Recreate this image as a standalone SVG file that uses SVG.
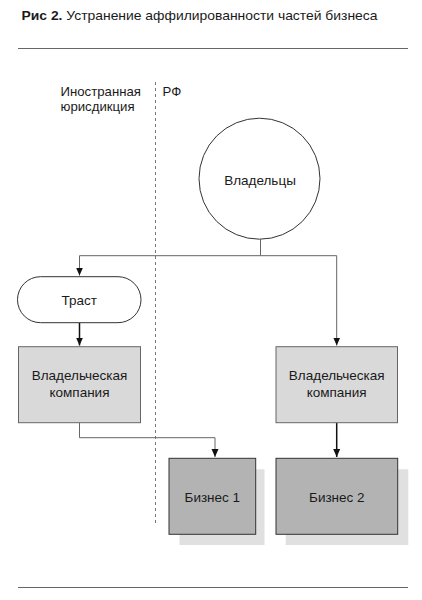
<svg xmlns="http://www.w3.org/2000/svg" width="422" height="600" viewBox="0 0 422 600">
<style>
text{font-family:"Liberation Sans",Arial,sans-serif;fill:#1a1a1a}
.lbl{font-size:13.5px;text-anchor:middle}
.jur{font-size:13.2px}
.thin{fill:none;stroke:#666;stroke-width:1}
.thick{fill:none;stroke:#111;stroke-width:1.5}
.rule{stroke:#666;stroke-width:1.2}
.own{fill:#d9d9d9;stroke:#666;stroke-width:1}
.biz{fill:#b3b3b3;stroke:#333;stroke-width:1}
.shadow{fill:#e0e0e0}
</style>
<defs>
<marker id="ah" viewBox="0 0 8 8" refX="8" refY="4" markerWidth="8" markerHeight="8" markerUnits="userSpaceOnUse" orient="auto">
<path d="M0,0.5 L8,4 L0,7.5 Z" fill="#111"/>
</marker>
</defs>
<rect width="422" height="600" fill="#fff"/>
<text x="21.5" y="19.5" font-size="13" textLength="356" lengthAdjust="spacingAndGlyphs"><tspan font-weight="bold">Рис 2.</tspan> Устранение аффилированности частей бизнеса</text>
<line class="rule" x1="18" y1="48.5" x2="408" y2="48.5"/>
<line class="rule" x1="18" y1="587.5" x2="408" y2="587.5"/>
<g id="jurisdiction">
<line x1="155.5" y1="82" x2="155.5" y2="526" stroke="#777" stroke-width="1" stroke-dasharray="3,3"/>
<text class="jur" x="60.5" y="96">Иностранная</text>
<text class="jur" x="60.5" y="111">юрисдикция</text>
<text class="jur" x="162.5" y="96">РФ</text>
</g>
<g id="connectors">
<path class="thin" d="M260.5,239.5 V255.7"/>
<path class="thin" d="M79.5,255.7 H336.7"/>
<path class="thin" d="M79.5,255.7 V275.5" marker-end="url(#ah)"/>
<path class="thin" d="M336.7,255.7 V345.5" marker-end="url(#ah)"/>
<path class="thick" d="M79.5,322.7 V345.5" marker-end="url(#ah)"/>
<path class="thin" d="M79.5,422.7 V437.7 H215 V457" marker-end="url(#ah)"/>
<path class="thick" d="M336.7,422.7 V457" marker-end="url(#ah)"/>
</g>
<g id="owners">
<circle cx="259.5" cy="178.7" r="60.5" fill="#fff" stroke="#333" stroke-width="1"/>
<text class="lbl" x="260" y="185">Владельцы</text>
</g>
<g id="trust">
<rect x="17.5" y="276.7" width="123.5" height="46" rx="23" ry="23" fill="#fff" stroke="#333" stroke-width="1"/>
<text class="lbl" x="79.3" y="305">Траст</text>
</g>
<g id="holding1">
<rect class="own" x="18.5" y="346.7" width="122" height="76"/>
<text class="lbl" x="79.5" y="380">Владельческая</text>
<text class="lbl" x="79.5" y="396.7">компания</text>
</g>
<g id="holding2">
<rect class="own" x="276" y="346.7" width="121.5" height="76"/>
<text class="lbl" x="336.7" y="380">Владельческая</text>
<text class="lbl" x="336.7" y="396.7">компания</text>
</g>
<g id="business1">
<rect class="shadow" x="179.5" y="469.3" width="85" height="75.7"/>
<rect class="biz" x="169" y="458.3" width="86.7" height="76"/>
<text class="lbl" x="212.3" y="502">Бизнес 1</text>
</g>
<g id="business2">
<rect class="shadow" x="285.7" y="469.3" width="122.6" height="75.7"/>
<rect class="biz" x="276" y="458.3" width="121.7" height="76"/>
<text class="lbl" x="336.8" y="502">Бизнес 2</text>
</g>
</svg>
